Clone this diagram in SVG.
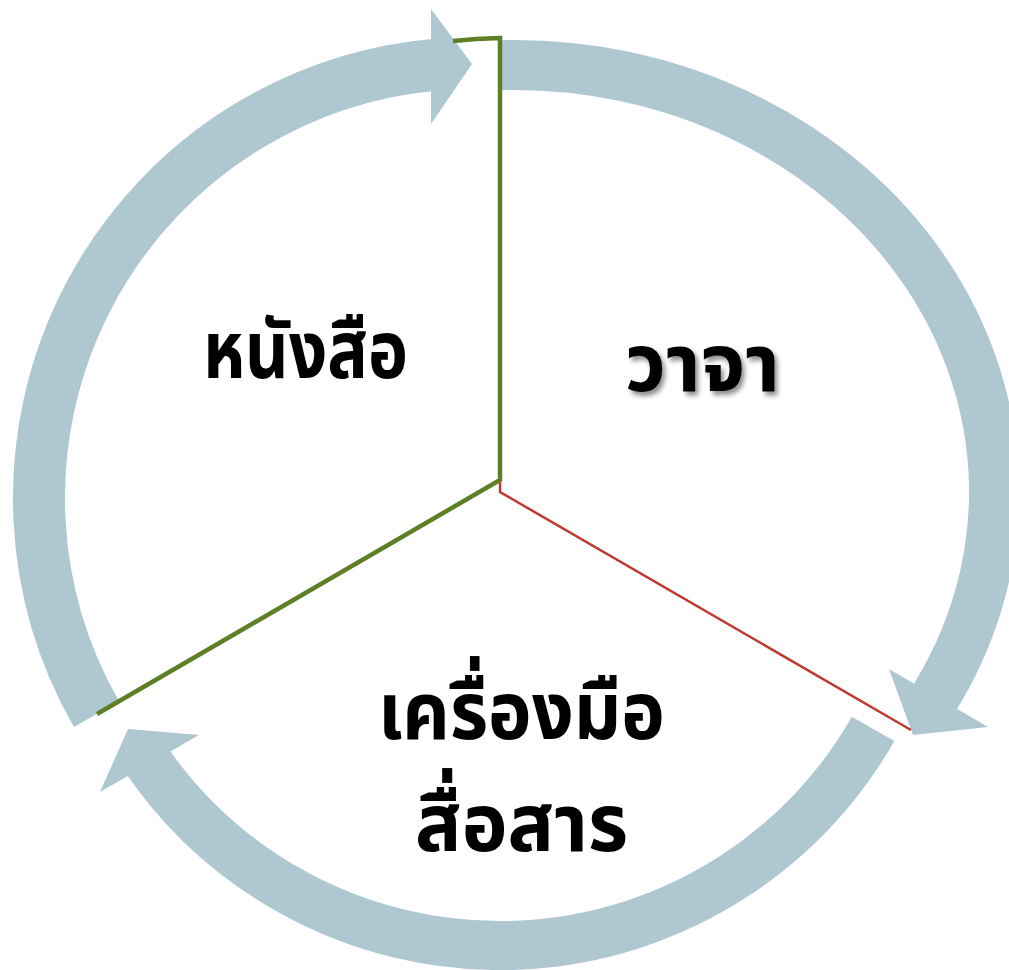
<svg xmlns="http://www.w3.org/2000/svg" width="1009" height="970" viewBox="0 0 1009 970">
  <style>
    .band { fill: none; stroke: #AFC7D1; stroke-linecap: butt; }
    .head { fill: #AFC7D1; stroke: none; }
    .lbl { font-family: "Noto Sans Thai", "Noto Sans", "DejaVu Sans", sans-serif; font-weight: bold; font-size: 80px; fill: #000; text-anchor: middle; }
    .green { fill: none; stroke: #5F7F27; stroke-width: 4.5; stroke-linejoin: miter; }
    .red { fill: none; stroke: #C0392F; stroke-width: 2.5; }
  </style>
  <defs>
    <filter id="shadow" x="-20%" y="-20%" width="140%" height="160%">
      <feGaussianBlur in="SourceAlpha" stdDeviation="2.5"/>
      <feOffset dx="3" dy="4" result="b"/>
      <feComponentTransfer in="b" result="s"><feFuncA type="linear" slope="0.45"/></feComponentTransfer>
      <feMerge><feMergeNode in="s"/><feMergeNode in="SourceGraphic"/></feMerge>
    </filter>
  </defs>
  <rect width="1009" height="970" fill="#FFFFFF"/>

  <g id="connectors">
    <g id="arrow-top-right">
      <path class="band" stroke-width="50" d="M500,65.2 A480,427 0 0 1 931.8,702.3"/>
      <polygon class="head" points="889,669 988,727 913,735"/>
    </g>
    <g id="arrow-bottom">
      <path class="band" stroke-width="49" d="M873.1,728.8 A429.5,429.5 0 0 1 143.9,756.2"/>
      <polygon class="head" points="199,735 100,792 128,729"/>
    </g>
    <g id="arrow-left">
      <path class="band" stroke-width="52" d="M96.5,714.2 A435,435 0 0 1 439.9,64.3"/>
      <polygon class="head" points="431,9 431,124 472,64"/>
    </g>
  </g>

  <g id="segments">
    <path class="red" d="M500,482 L500,492 L911,730"/>
    <path class="green" d="M97,714 L500,480 L500,38 Q476,38.5 453,41"/>
  </g>

  <g id="node-nangsue">
    <text class="lbl" x="305.5" y="378" textLength="205" lengthAdjust="spacingAndGlyphs">หนังสือ</text>
  </g>
  <g id="node-wacha">
    <text class="lbl" x="702.5" y="391" textLength="155" lengthAdjust="spacingAndGlyphs" filter="url(#shadow)">วาจา</text>
  </g>
  <g id="node-khrueangmue">
    <text class="lbl" x="521.5" y="739" textLength="287" lengthAdjust="spacingAndGlyphs">เครื่องมือ</text>
    <text class="lbl" x="521.5" y="851" textLength="213" lengthAdjust="spacingAndGlyphs">สื่อสาร</text>
  </g>
</svg>
